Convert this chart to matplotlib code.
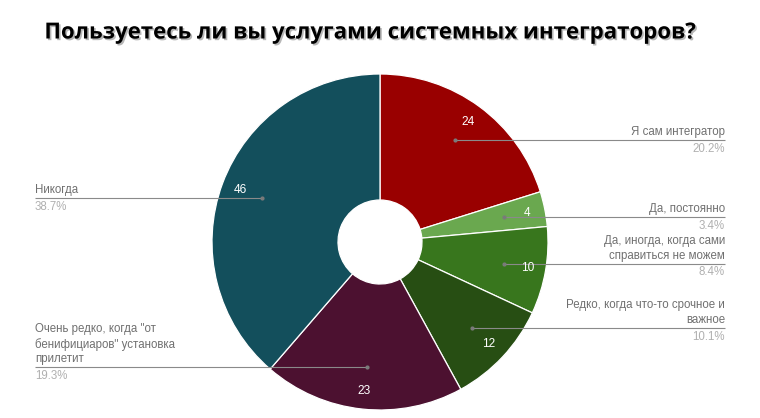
import numpy as np
import matplotlib
matplotlib.use("Agg")
import matplotlib.pyplot as plt
import matplotlib.patheffects as pe

title = "Пользуетесь ли вы услугами системных интеграторов?"
categories = [
    "Я сам интегратор",
    "Да, постоянно",
    "Да, иногда, когда сами\nсправиться не можем",
    "Редко, когда что-то срочное и\nважное",
    "Очень редко, когда \"от\nбенифициаров\" установка\nприлетит",
    "Никогда",
]
values = [24, 4, 10, 12, 23, 46]
colors = ["#990000", "#6aa84f", "#38761d", "#274e13", "#4c1130", "#134f5c"]

W, H = 760, 418
fig = plt.figure(figsize=(W / 100, H / 100), dpi=100)
ax = fig.add_axes([0, 0, 1, 1])

cx, cy = 380, H - 242
R = 168
hole = 42

ax.pie(values, colors=colors, startangle=90, counterclock=False,
       center=(cx, cy), radius=R, frame=True,
       wedgeprops=dict(width=R - hole, edgecolor="white", linewidth=0.9))
ax.set_xlim(0, W)
ax.set_ylim(0, H)
ax.set_aspect("equal")
ax.axis("off")

total = sum(values)
cum = np.cumsum([0] + values[:-1])
fontf = ["Liberation Sans", "DejaVu Sans"]
fs = 8.3
xr, xl = 725, 35
lh = 15
for i, (v, lab) in enumerate(zip(values, categories)):
    frac = (cum[i] + v / 2) / total
    ang = np.deg2rad(90 - 360 * frac)
    # leader dot + line
    dx = cx + 0.75 * R * np.cos(ang)
    dy = cy + 0.75 * R * np.sin(ang)
    right = np.cos(ang) > 0
    xe = xr if right else xl
    ax.plot([dx, xe], [dy, dy], color="#8a8a8a", lw=0.8, solid_capstyle="butt")
    ax.plot([dx], [dy], "o", color="#7a7a7a", ms=2)
    # value label
    nx = cx + 0.89 * R * np.cos(ang)
    ny = cy + 0.89 * R * np.sin(ang)
    ax.text(nx, ny, str(v), color="white", fontsize=fs + 0.3, family=fontf,
            ha="center", va="center")
    ha = "right" if right else "left"
    nlines = lab.count("\n") + 1
    for j, ln in enumerate(lab.split("\n")):
        yy = dy + 8 + (nlines - 1 - j) * lh
        ax.text(xe, yy, ln, color="#707070", fontsize=fs, family=fontf,
                ha=ha, va="center")
    ax.text(xe, dy - 8.5, f"{100 * v / total:.1f}%", color="#b0b0b0",
            fontsize=fs, family=fontf, ha=ha, va="center")

fig.text(371 / W, 1 - 33 / H, title, fontsize=16, fontweight="bold",
         family=["Open Sans", "DejaVu Sans"], ha="center", va="center",
         color="black",
         path_effects=[pe.withSimplePatchShadow(offset=(1.2, -1.2),
                                                shadow_rgbFace="#888888",
                                                alpha=0.6)])

fig.savefig("out.png", dpi=100, facecolor="white")
